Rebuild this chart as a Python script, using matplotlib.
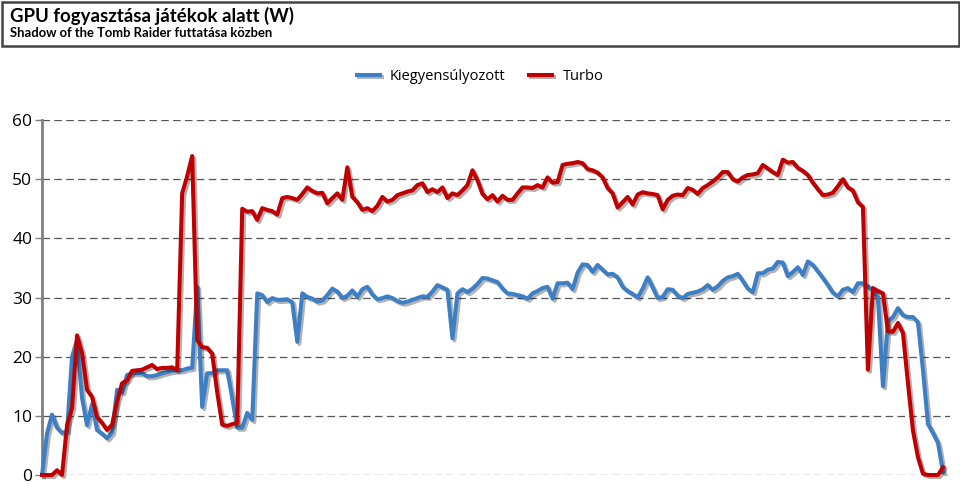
import matplotlib
matplotlib.use("Agg")
import matplotlib.pyplot as plt
import matplotlib.patches as patches
import matplotlib.patheffects as pe

title = "GPU fogyasztása játékok alatt (W)"
subtitle = "Shadow of the Tomb Raider futtatása közben"
series_names = ["Kiegyensúlyozott", "Turbo"]
y_ticks = [0, 10, 20, 30, 40, 50, 60]

balanced = [
    0, 7, 10.2, 8, 7.1, 7.4, 20, 22.8, 13, 8.4,
    12, 7.6, 7, 6.2, 7.2, 14.4, 14, 16.9, 17.2, 17.2,
    17.2, 16.7, 16.7, 16.9, 17.2, 17.4, 17.6, 17.7, 17.7, 18,
    18.1, 31.8, 11.5, 17.2, 17.2, 17.7, 17.7, 17.7, 13, 8,
    8, 10.5, 9.3, 30.7, 30.4, 29.2, 29.9, 29.6, 29.6, 29.7,
    29.2, 22.5, 30.7, 30.1, 29.8, 29.3, 29.5, 30.4, 31.5, 31,
    29.9, 30.3, 31.2, 30.1, 31.4, 31.8, 30.5, 29.7, 29.9, 30.2,
    29.9, 29.4, 29.1, 29.3, 29.6, 29.9, 30.2, 30.1, 31, 32.1,
    31.7, 31.3, 23.1, 30.7, 31.4, 30.9, 31.5, 32.3, 33.3, 33.2,
    32.9, 32.6, 31.5, 30.7, 30.6, 30.4, 30.2, 29.8, 30.7, 31.1,
    31.6, 31.8, 29.8, 32.4, 32.4, 32.5, 31.4, 34.2, 35.6, 35.5,
    34.3, 35.5, 34.7, 33.9, 34, 33.4, 31.8, 31.1, 30.6, 30,
    31.5, 33.4, 31.7, 29.9, 30.1, 31.4, 31.3, 30.3, 29.9, 30.6,
    30.8, 31, 31.4, 32.1, 31.3, 31.9, 32.8, 33.4, 33.6, 34,
    32.8, 31.5, 30.9, 34.1, 34.1, 34.7, 34.9, 36, 35.9, 33.6,
    34.3, 35.1, 33.8, 36.1, 35.5, 34.4, 33.3, 32.1, 30.8, 30.2,
    31.3, 31.6, 30.9, 32.4, 32.4, 31.9, 31.2, 30.1, 15, 26,
    26.7, 28.2, 27, 26.7, 26.7, 25.8, 17.7, 8.6, 7.1, 5.4,
    0.5,
]

turbo = [
    0, 0, 0, 0.8, 0, 8.4, 11.3, 23.6, 20.6, 14.4,
    13.2, 9.8, 8.8, 7.6, 8.5, 12.5, 15.5, 16, 17.6, 17.7,
    17.8, 18.2, 18.6, 17.9, 18.1, 18.1, 18.2, 17.7, 47.6, 50.5,
    53.9, 22.8, 21.6, 21.5, 20.5, 14, 8.5, 8.3, 8.6, 8.8,
    45, 44.5, 44.6, 43.1, 45.1, 44.8, 44.6, 44, 46.8, 47,
    46.8, 46.5, 47.5, 48.6, 48, 47.6, 47.7, 45.9, 46.8, 47.6,
    46.5, 52, 47, 46.1, 44.8, 45.1, 44.6, 45.5, 47, 46.2,
    46.5, 47.3, 47.6, 47.9, 48.1, 49, 49.3, 47.8, 48.3, 47.8,
    48.6, 46.8, 47.6, 47.3, 48.1, 49, 51.5, 49.8, 47.5, 46.6,
    47.3, 46.2, 47.2, 46.5, 46.5, 47.6, 48.6, 48.6, 48.5, 49,
    48.6, 50.3, 49.4, 49.5, 52.4, 52.6, 52.7, 52.9, 52.7, 51.7,
    51.5, 51.1, 50.3, 48.5, 47.6, 45.2, 46.1, 47, 45.7, 47.4,
    47.8, 47.6, 47.5, 47.3, 44.9, 46.5, 47.2, 47.4, 47.3, 48.5,
    48.2, 47.5, 48.5, 49, 49.6, 50.3, 51.2, 51.2, 50, 49.6,
    50.3, 50.7, 50.8, 51, 52.4, 51.8, 51.2, 50.7, 53.3, 52.8,
    52.9, 51.9, 51.4, 50.7, 49.4, 48.3, 47.3, 47.4, 47.7, 48.8,
    50, 48.6, 48.1, 46.1, 45.3, 17.8, 31.6, 31.1, 30.7, 24.3,
    24.2, 25.7, 24, 15.5, 7.5, 3, 0.2, 0, 0, 0,
    1.3,
]

colors = ["#3c7fc4", "#c00000"]

fig = plt.figure(figsize=(9.6, 5), dpi=100)
fig.patch.set_facecolor("white")

# title box
fig.patches.append(patches.Rectangle((1.5 / 960, 1 - 46 / 500), 957 / 960, 44.5 / 500,
                                     transform=fig.transFigure, fill=False,
                                     edgecolor="#444444", linewidth=1.8))
fig.text(10 / 960, 1 - 16 / 500, title, fontsize=13.4, fontweight="bold",
         family="Lato", va="center", ha="left")
fig.text(10 / 960, 1 - 33 / 500, subtitle, fontsize=9.4, fontweight="bold",
         family="Lato", va="center", ha="left")

ax = fig.add_axes([42 / 960, 25 / 500, 908 / 960, 355 / 500])
shadow = [pe.SimpleLineShadow(offset=(1.5, -1.5), shadow_color="black", alpha=0.3),
          pe.Normal()]
x = list(range(len(balanced)))
ax.plot(x, balanced, color=colors[0], lw=2.9, label=series_names[0],
        path_effects=shadow, clip_on=False, solid_joinstyle="round", zorder=3)
ax.plot(x, turbo, color=colors[1], lw=2.9, label=series_names[1],
        path_effects=shadow, clip_on=False, solid_joinstyle="round", zorder=4)

ax.set_xlim(0, (len(balanced) - 1) * 908 / 901)
ax.set_ylim(0, 60)
ax.set_yticks(y_ticks)
ax.set_yticklabels([str(t) for t in y_ticks], fontsize=12.5, family="Open Sans")
ax.set_xticks([])
ax.yaxis.grid(True, linestyle=(0, (6, 3.5)), color="#555555", linewidth=0.9)
ax.set_axisbelow(True)
for s in ["top", "right", "bottom"]:
    ax.spines[s].set_visible(False)
ax.spines["left"].set_color("#808080")
ax.spines["left"].set_linewidth(2)
ax.tick_params(axis="y", length=5, width=1, color="#808080", pad=2)

leg = fig.legend(loc="center", bbox_to_anchor=(0.5, 1 - 77 / 500), ncol=2,
                 frameon=False, handlelength=1.6, handletextpad=0.7, columnspacing=1.6,
                 prop={"family": "Open Sans", "size": 10.5})

fig.savefig("out.png", dpi=100)
